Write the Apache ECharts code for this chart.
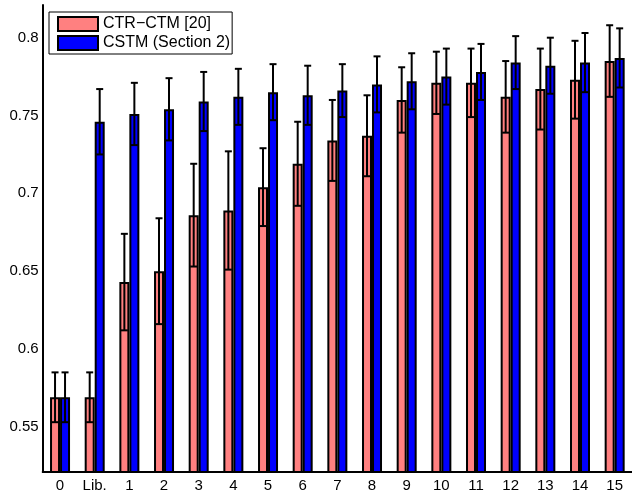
<!DOCTYPE html>
<html>
<head>
<meta charset="utf-8">
<script src="https://cdn.jsdelivr.net/npm/echarts@6/dist/echarts.min.js"></script>
<style>
html,body{margin:0;padding:0;background:#fff;}
#chart{width:632px;height:493px;}
</style>
</head>
<body>
<div id="chart"></div>
<script>
var categories = ['0', 'Lib.', '1', '2', '3', '4', '5', '6', '7', '8', '9', '10', '11', '12', '13', '14', '15'];
var seriesNames = ['CTR\u2212CTM [20]', 'CSTM (Section 2)'];
var ctrValues = [0.569, 0.569, 0.643, 0.650, 0.686, 0.689, 0.704, 0.719, 0.734, 0.737, 0.760, 0.771, 0.771, 0.762, 0.767, 0.773, 0.785];
var ctrErrors = [0.016, 0.016, 0.031, 0.034, 0.033, 0.038, 0.025, 0.027, 0.026, 0.026, 0.021, 0.020, 0.022, 0.023, 0.026, 0.025, 0.023];
var cstmValues = [0.569, 0.746, 0.751, 0.754, 0.759, 0.762, 0.765, 0.763, 0.766, 0.770, 0.772, 0.775, 0.778, 0.784, 0.782, 0.784, 0.787];
var cstmErrors = [0.016, 0.021, 0.020, 0.020, 0.019, 0.018, 0.018, 0.019, 0.017, 0.018, 0.018, 0.018, 0.018, 0.017, 0.018, 0.019, 0.019];
var yTickStep = 0.05;

var chart = echarts.init(document.getElementById('chart'));
var FONT = "'Liberation Sans', Arial, Helvetica, sans-serif";
var BAR_W = 10;

function errData(vals, errs) {
  return vals.map(function (v, i) { return [i, v - errs[i], v + errs[i]]; });
}
function errSeries(vals, errs, offset) {
  return {
    type: 'custom',
    z: 10,
    silent: true,
    data: errData(vals, errs),
    encode: { x: 0, y: [1, 2] },
    renderItem: function (params, api) {
      var lo = api.coord([api.value(0), api.value(1)]);
      var hi = api.coord([api.value(0), api.value(2)]);
      var x = lo[0] + offset;
      var cap = 3.5;
      var st = { stroke: '#000', lineWidth: 2 };
      return {
        type: 'group',
        children: [
          { type: 'line', shape: { x1: x, y1: lo[1], x2: x, y2: hi[1] }, style: st },
          { type: 'line', shape: { x1: x - cap, y1: lo[1], x2: x + cap, y2: lo[1] }, style: st },
          { type: 'line', shape: { x1: x - cap, y1: hi[1], x2: x + cap, y2: hi[1] }, style: st }
        ]
      };
    }
  };
}

var option = {
  animation: false,
  backgroundColor: '#fff',
  grid: { left: 42.7, top: 5, width: 592.7, bottom: 20.7, containLabel: false },
  legend: {
    data: seriesNames,
    left: 49, top: 12,
    orient: 'vertical',
    backgroundColor: '#fff',
    borderColor: '#000', borderWidth: 1, borderRadius: 0,
    padding: [4, 2, 3, 8],
    itemWidth: 40, itemHeight: 14, itemGap: 3,
    icon: 'rect',
    itemStyle: { borderColor: '#000', borderWidth: 2 },
    textStyle: { fontFamily: FONT, fontSize: 16, color: '#000' }
  },
  xAxis: {
    type: 'category',
    data: categories,
    axisLine: { lineStyle: { color: '#000', width: 2 } },
    axisTick: { show: false },
    axisLabel: { fontFamily: FONT, fontSize: 15, color: '#000', margin: 6, interval: 0 }
  },
  yAxis: {
    type: 'value',
    min: 0.521, max: 0.821,
    splitLine: { show: false },
    axisLine: { show: true, lineStyle: { color: '#000', width: 2 } },
    axisTick: { show: false },
    axisLabel: {
      fontFamily: FONT, fontSize: 15, color: '#000', margin: 4,
      showMinLabel: false, showMaxLabel: false,
      formatter: function (v) {
        var k = Math.round(v / yTickStep);
        if (Math.abs(v - k * yTickStep) > 1e-6) return '';
        return String(+(k * yTickStep).toFixed(2));
      }
    }
  },
  series: [
    {
      name: seriesNames[0], type: 'bar', barWidth: BAR_W, barGap: '0%',
      data: ctrValues,
      itemStyle: { color: '#FF8080', borderColor: '#000', borderWidth: 2 }
    },
    {
      name: seriesNames[1], type: 'bar', barWidth: BAR_W, barGap: '0%',
      data: cstmValues,
      itemStyle: { color: '#0000FF', borderColor: '#000', borderWidth: 2 }
    },
    errSeries(ctrValues, ctrErrors, -BAR_W / 2),
    errSeries(cstmValues, cstmErrors, BAR_W / 2)
  ]
};
chart.setOption(option);
</script>
</body>
</html>
